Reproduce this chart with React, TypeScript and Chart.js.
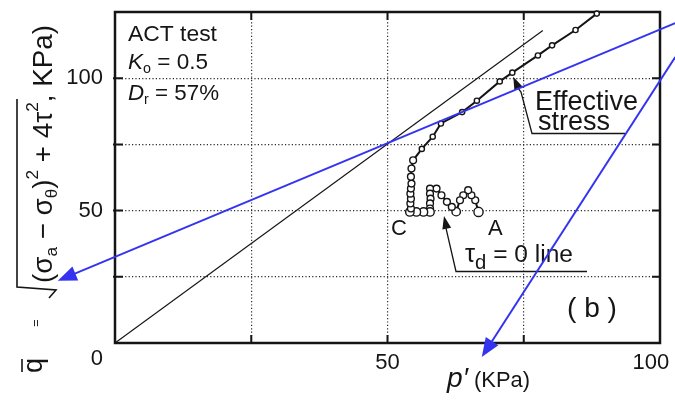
import React, { useEffect, useRef } from 'react';
import { Chart, registerables } from 'chart.js';

Chart.register(...registerables);

// ---------- data ----------
const xTickLabels: Record<number, string> = { 0: '', 25: '', 50: '50', 75: '', 100: '100\u00a0\u00a0\u00a0' };
const yTickLabels: Record<number, string> = { 0: '', 25: '', 50: '50', 75: '', 100: '100', 125: '' };

// straight reference line through the origin
const refLineP = [0, 78.5];
const refLineQ = [0, 118];

// effective stress path (chronological: A -> cycles -> C -> monotonic)
const pathP = [
  66.7, 66.1, 65.4, 64.8, 63.9, 63.3, 62.6, 61.8, 60.9, 59.9, 59.0,
  57.8, 57.8, 57.9, 57.8, 57.8, 57.8, 56.6, 55.3, 54.1,
  54.3, 54.2, 54.3, 54.2, 54.3, 54.4, 54.3, 54.4, 54.7,
  56.3, 58.3, 59.8, 63.7, 66.4, 70.6, 72.9, 77.6, 80.2, 84.5, 88.4,
];
const pathQ = [
  49.5, 53.9, 55.8, 57.7, 55.8, 53.9, 49.6, 51.4, 53.3, 55.8, 58.3,
  58.3, 56.4, 54.5, 52.7, 50.8, 49.5, 49.5, 49.5, 49.5,
  50.8, 52.7, 54.5, 56.4, 58.3, 60.2, 62.8, 65.9, 69.0,
  73.3, 77.9, 82.9, 87.2, 91.5, 98.8, 102.1, 108.6, 112.4, 118.2, 124.4,
];

// blue overlay arrows (data coordinates: from -> to)
const arrowFromP = [102.8, 102.8];
const arrowFromQ = [120.8, 108.0];
const arrowToP = [-10.5, 67.3];
const arrowToQ = [23.5, -5.3];

const FONT = '"Liberation Sans", Arial, Helvetica, sans-serif';
const INK = '#151515';

type Piece = { t: string; size: number; dy?: number; italic?: boolean };

// draws a run of text pieces; if width is given, the run is scaled to that width
function drawRich(
  ctx: CanvasRenderingContext2D,
  x: number,
  y: number,
  pieces: Piece[],
  width?: number,
  rotate = false,
) {
  ctx.save();
  ctx.translate(x, y);
  if (rotate) ctx.rotate(-Math.PI / 2);
  ctx.textBaseline = 'alphabetic';
  ctx.textAlign = 'left';
  let k = 1;
  if (width) {
    let w = 0;
    for (const p of pieces) {
      ctx.font = `${p.italic ? 'italic ' : ''}${p.size}px ${FONT}`;
      w += ctx.measureText(p.t).width;
    }
    k = width / w;
  }
  let cx = 0;
  for (const p of pieces) {
    ctx.font = `${p.italic ? 'italic ' : ''}${(p.size * k).toFixed(2)}px ${FONT}`;
    ctx.fillText(p.t, cx, (p.dy || 0) * k);
    cx += ctx.measureText(p.t).width;
  }
  ctx.restore();
}

function arrowHead(ctx: CanvasRenderingContext2D, fx: number, fy: number, tx: number, ty: number, len: number, half: number) {
  const a = Math.atan2(ty - fy, tx - fx);
  const bx = tx - len * Math.cos(a);
  const by = ty - len * Math.sin(a);
  ctx.beginPath();
  ctx.moveTo(tx, ty);
  ctx.lineTo(bx + half * Math.sin(a), by - half * Math.cos(a));
  ctx.lineTo(bx - half * Math.sin(a), by + half * Math.cos(a));
  ctx.closePath();
  ctx.fill();
}

const decor = {
  id: 'decor',
  beforeDatasetsDraw(chart: any) {
    const { ctx, chartArea: a, scales } = chart;
    const xs = scales.x;
    const ys = scales.y;
    ctx.save();
    ctx.strokeStyle = INK;
    ctx.lineWidth = 2;
    for (const t of xs.ticks) {
      const px = xs.getPixelForValue(t.value);
      if (t.value === xs.min || t.value === xs.max) continue;
      ctx.beginPath();
      ctx.moveTo(px, a.bottom); ctx.lineTo(px, a.bottom - 8);
      ctx.moveTo(px, a.top); ctx.lineTo(px, a.top + 8);
      ctx.stroke();
    }
    for (const t of ys.ticks) {
      const py = ys.getPixelForValue(t.value);
      if (t.value === ys.min || t.value === ys.max) continue;
      ctx.beginPath();
      ctx.moveTo(a.left - 2, py); ctx.lineTo(a.left + 8, py);
      ctx.moveTo(a.right, py); ctx.lineTo(a.right - 8, py);
      ctx.stroke();
    }
    ctx.lineWidth = 2.5;
    ctx.strokeRect(a.left, a.top, a.right - a.left, a.bottom - a.top);
    ctx.restore();
  },
  afterDraw(chart: any) {
    const { ctx, chartArea: a, scales } = chart;
    const xs = scales.x;
    const ys = scales.y;
    ctx.save();
    ctx.fillStyle = INK;
    ctx.strokeStyle = INK;

    // shared origin label
    ctx.font = `22px ${FONT}`;
    ctx.textAlign = 'right';
    ctx.textBaseline = 'middle';
    ctx.fillText('0', a.left - 12, ys.getPixelForValue(0) + 16);

    // test info
    drawRich(ctx, 128, 41, [{ t: 'ACT test', size: 22 }], 89);
    drawRich(ctx, 128, 69, [
      { t: 'K', size: 22, italic: true },
      { t: 'o', size: 14, dy: 4 },
      { t: ' = 0.5', size: 22 },
    ], 80);
    drawRich(ctx, 128, 100, [
      { t: 'D', size: 22, italic: true },
      { t: 'r', size: 14, dy: 4 },
      { t: ' = 57%', size: 22 },
    ], 91);

    // Effective stress label + leader
    drawRich(ctx, 535, 110, [{ t: 'Effective', size: 27 }], 103);
    drawRich(ctx, 538, 130, [{ t: 'stress', size: 27 }], 72);
    const tipE = { x: xs.getPixelForValue(72.9) + 1, y: ys.getPixelForValue(102.1) + 4 };
    ctx.lineWidth = 1.3;
    ctx.beginPath();
    ctx.moveTo(tipE.x + 2, tipE.y + 8);
    ctx.lineTo(521, 92);
    ctx.lineTo(532, 133.5);
    ctx.lineTo(625, 133.5);
    ctx.stroke();
    arrowHead(ctx, 520, 92, tipE.x, tipE.y, 13, 4.5);

    // C, A labels
    drawRich(ctx, 391, 235, [{ t: 'C', size: 22 }]);
    drawRich(ctx, 488, 235, [{ t: 'A', size: 22 }]);

    // tau_d = 0 line label + leader
    drawRich(ctx, 465, 262, [
      { t: '\u03c4', size: 24 },
      { t: 'd', size: 19, dy: 7 },
      { t: ' = 0 line', size: 23 },
    ], 108);
    const tipT = { x: 444, y: ys.getPixelForValue(49.5) + 4 };
    ctx.lineWidth = 1.3;
    ctx.beginPath();
    ctx.moveTo(tipT.x + 1, tipT.y + 8);
    ctx.lineTo(456, 271.5);
    ctx.lineTo(587, 271.5);
    ctx.stroke();
    arrowHead(ctx, 456, 271, tipT.x, tipT.y, 13, 4.5);

    // panel label
    drawRich(ctx, 567, 317, [{ t: '( b )', size: 28 }], 50);

    // x axis title
    drawRich(ctx, 447, 387, [
      { t: 'p\u2032', size: 27, italic: true },
      { t: ' (KPa)', size: 21 },
    ], 83);

    // y axis title (rotated)
    drawRich(ctx, 42, 373, [{ t: 'q', size: 27 }], undefined, true);
    ctx.lineWidth = 1.6;
    ctx.beginPath();
    ctx.moveTo(22, 372); ctx.lineTo(22, 359);
    ctx.stroke();
    drawRich(ctx, 40, 327, [{ t: '=', size: 13 }], undefined, true);
    ctx.lineWidth = 1.6;
    ctx.beginPath();
    ctx.moveTo(17, 99);
    ctx.lineTo(17, 287);
    ctx.lineTo(56, 290);
    ctx.lineTo(49, 298);
    ctx.stroke();
    drawRich(ctx, 52, 283, [
      { t: '(\u03c3', size: 26 },
      { t: 'a', size: 16, dy: 5 },
      { t: ' \u2212 \u03c3', size: 26 },
      { t: '\u03b8', size: 16, dy: 5 },
      { t: ')', size: 26 },
      { t: '2', size: 16, dy: -13 },
      { t: ' + 4\u03c4', size: 26 },
      { t: '2', size: 16, dy: -13 },
      { t: ', KPa)', size: 26 },
    ], 258, true);

    // blue overlay arrows
    ctx.strokeStyle = '#3434f0';
    ctx.fillStyle = '#3434f0';
    ctx.lineWidth = 2;
    for (let i = 0; i < arrowFromP.length; i++) {
      const fx = xs.getPixelForValue(arrowFromP[i]);
      const fy = ys.getPixelForValue(arrowFromQ[i]);
      const tx = xs.getPixelForValue(arrowToP[i]);
      const ty = ys.getPixelForValue(arrowToQ[i]);
      const ang = Math.atan2(ty - fy, tx - fx);
      ctx.beginPath();
      ctx.moveTo(fx, fy);
      ctx.lineTo(tx - 12 * Math.cos(ang), ty - 12 * Math.sin(ang));
      ctx.stroke();
      arrowHead(ctx, fx, fy, tx, ty, 19, 7.5);
    }
    ctx.restore();
  },
};

export default function App() {
  const ref = useRef<HTMLCanvasElement | null>(null);
  useEffect(() => {
    if (!ref.current) return;
    const gridColor = (c: any) =>
      c.tick && (c.tick.value === c.scale.min || c.tick.value === c.scale.max) ? 'rgba(0,0,0,0)' : '#2a2a2a';
    const chart = new Chart(ref.current, {
      type: 'scatter',
      data: {
        datasets: [
          {
            label: 'Effective stress',
            data: pathP.map((p, i) => ({ x: p, y: pathQ[i] })),
            showLine: true,
            borderColor: INK,
            borderWidth: 2,
            pointBackgroundColor: '#ffffff',
            pointBorderColor: INK,
            pointBorderWidth: 1.4,
            pointRadius: (c: any) => {
              const i = c.dataIndex;
              const q = pathQ[i];
              if (i === 0) return 4.6;
              if (q < 50) return 4.2;
              if (q < 70 && i < 29) return 3.4;
              return 2.6;
            },
            clip: 10,
          } as any,
          {
            label: 'Reference line',
            data: refLineP.map((p, i) => ({ x: p, y: refLineQ[i] })),
            showLine: true,
            borderColor: INK,
            borderWidth: 1.2,
            pointRadius: 0,
          },
        ],
      },
      options: {
        responsive: false,
        animation: false,
        layout: { padding: { top: 12, right: 15, bottom: 0, left: 0 } },
        plugins: { legend: { display: false }, tooltip: { enabled: false } },
        scales: {
          x: {
            type: 'linear',
            min: 0,
            max: 100,
            ticks: {
              stepSize: 25,
              autoSkip: false,
              maxRotation: 0,
              padding: 7,
              color: INK,
              font: { size: 22, family: FONT },
              callback: (v: any) => xTickLabels[v as number] ?? '',
            },
            grid: { color: gridColor, lineWidth: 1.2, drawTicks: false },
            border: { display: false, dash: [1.2, 2.2] },
            afterFit: (s: any) => {
              s.height = 57;
              s.paddingLeft = 0;
              s.paddingRight = 0;
            },
          },
          y: {
            type: 'linear',
            min: 0,
            max: 125,
            ticks: {
              stepSize: 25,
              autoSkip: false,
              padding: 12,
              color: INK,
              font: { size: 22, family: FONT },
              callback: (v: any) => yTickLabels[v as number] ?? '',
            },
            grid: { color: gridColor, lineWidth: 1.2, drawTicks: false },
            border: { display: false, dash: [1.2, 2.2] },
            afterFit: (s: any) => {
              s.width = 115;
              s.paddingTop = 0;
              s.paddingBottom = 0;
            },
          },
        },
      },
      plugins: [decor],
    });
    return () => chart.destroy();
  }, []);
  return (
    <div style={{ position: 'fixed', left: 0, top: 0, width: 675, height: 400, background: '#fff' }}>
      <canvas ref={ref} width={675} height={400} style={{ display: 'block' }} />
    </div>
  );
}
